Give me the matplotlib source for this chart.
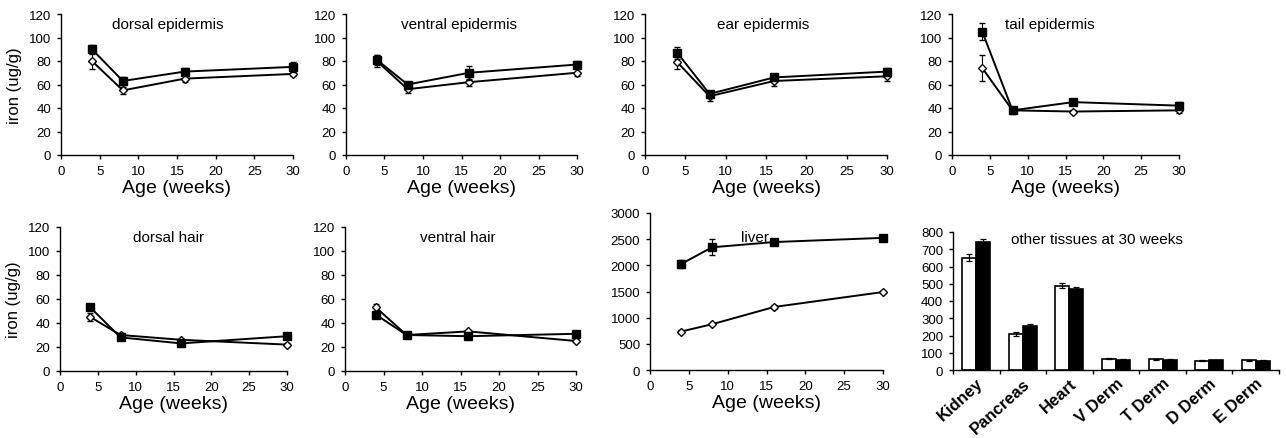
import matplotlib
matplotlib.use("Agg")
import matplotlib.pyplot as plt
import numpy as np

plt.rcParams["font.family"] = ["Liberation Sans", "DejaVu Sans"]

W, H = 1286, 439

ages = [4, 8, 16, 30]

# iron (ug/g); *_f = filled squares, *_o = open diamonds
dorsal_epi_f = [90, 63, 71, 75]
dorsal_epi_f_err = [4, 3, 3, 4]
dorsal_epi_o = [80, 55, 65, 69]
dorsal_epi_o_err = [7, 3, 3, 2]

ventral_epi_f = [81, 60, 70, 77]
ventral_epi_f_err = [4, 2, 6, 3]
ventral_epi_o = [80, 56, 62, 70]
ventral_epi_o_err = [5, 3, 3, 3]

ear_epi_f = [87, 52, 66, 71]
ear_epi_f_err = [5, 2, 2, 3]
ear_epi_o = [79, 50, 63, 67]
ear_epi_o_err = [6, 4, 4, 4]

tail_epi_f = [105, 38, 45, 42]
tail_epi_f_err = [7, 2, 2, 3]
tail_epi_o = [74, 38, 37, 38]
tail_epi_o_err = [11, 3, 1, 2]

dorsal_hair_f = [53, 28, 23, 29]
dorsal_hair_f_err = [2, 1, 1, 2]
dorsal_hair_o = [45, 30, 26, 22]
dorsal_hair_o_err = [3, 1, 1, 1]

ventral_hair_f = [47, 30, 29, 31]
ventral_hair_f_err = [2, 1, 1, 1]
ventral_hair_o = [53, 30, 33, 25]
ventral_hair_o_err = [3, 1, 1, 1]

liver_f = [2025, 2345, 2445, 2525]
liver_f_err = [80, 150, 30, 30]
liver_o = [735, 875, 1205, 1490]
liver_o_err = [20, 20, 30, 20]

tissues = ["Kidney", "Pancreas", "Heart", "V Derm", "T Derm", "D Derm", "E Derm"]
tissue_o = [652, 208, 488, 64, 62, 55, 57]
tissue_o_err = [20, 10, 15, 3, 2, 2, 3]
tissue_f = [744, 256, 468, 60, 58, 57, 55]
tissue_f_err = [15, 8, 15, 4, 3, 3, 3]


fig = plt.figure(figsize=(W / 100, H / 100), dpi=100)
fig.patch.set_facecolor("white")


def px_axes(l, t, r, b):
    return fig.add_axes([l / W, 1 - b / H, (r - l) / W, (b - t) / H])


def style(ax):
    for s in ("top", "right"):
        ax.spines[s].set_visible(False)
    for s in ("left", "bottom"):
        ax.spines[s].set_linewidth(1.0)
    ax.tick_params(direction="out", length=3, width=1.0, labelsize=9.5, pad=4)


def line_panel(ax, f, ferr, o, oerr, title, tx, ylim, yticks, ylabel=False, ty=0.93):
    ax.errorbar(ages, o, yerr=oerr, color="black", lw=1.4, elinewidth=0.8, capsize=2,
                marker="D", ms=4.5, mfc="white", mec="black", mew=1.0, zorder=3,
                clip_on=False)
    ax.errorbar(ages, f, yerr=ferr, color="black", lw=1.4, elinewidth=0.8, capsize=2,
                marker="s", ms=6, mfc="black", mec="black", zorder=4, clip_on=False)
    ax.set_xlim(0, 30)
    ax.set_xticks(range(0, 31, 5))
    ax.set_ylim(*ylim)
    ax.set_yticks(yticks)
    ax.set_xlabel("Age (weeks)", fontsize=14, labelpad=1.5)
    if ylabel:
        ax.set_ylabel("iron (ug/g)", fontsize=12, labelpad=5)
    ax.text(tx, ty, title, transform=ax.transAxes, ha="center", va="center", fontsize=11)
    style(ax)


yt = range(0, 121, 20)
line_panel(px_axes(61, 15, 293, 156), dorsal_epi_f, dorsal_epi_f_err, dorsal_epi_o,
           dorsal_epi_o_err, "dorsal epidermis", 0.46, (0, 120), yt, ylabel=True)
line_panel(px_axes(346, 15, 577, 156), ventral_epi_f, ventral_epi_f_err, ventral_epi_o,
           ventral_epi_o_err, "ventral epidermis", 0.49, (0, 120), yt)
line_panel(px_axes(645, 15, 887, 156), ear_epi_f, ear_epi_f_err, ear_epi_o,
           ear_epi_o_err, "ear epidermis", 0.49, (0, 120), yt)
line_panel(px_axes(952, 15, 1179, 156), tail_epi_f, tail_epi_f_err, tail_epi_o,
           tail_epi_o_err, "tail epidermis", 0.43, (0, 120), yt)
line_panel(px_axes(60, 228, 287, 372), dorsal_hair_f, dorsal_hair_f_err, dorsal_hair_o,
           dorsal_hair_o_err, "dorsal hair", 0.48, (0, 120), yt, ylabel=True)
line_panel(px_axes(345, 228, 576, 372), ventral_hair_f, ventral_hair_f_err, ventral_hair_o,
           ventral_hair_o_err, "ventral hair", 0.49, (0, 120), yt)
line_panel(px_axes(650, 214, 883, 371), liver_f, liver_f_err, liver_o,
           liver_o_err, "liver", 0.45, (0, 3000), range(0, 3001, 500), ty=0.85)

# bar panel
ax = px_axes(953, 233, 1279, 371)
x = np.arange(len(tissues)) + 0.5
bw = 0.3
ax.bar(x - bw / 2, tissue_o, bw, yerr=tissue_o_err, color="white", edgecolor="black",
       lw=1.2, capsize=2, error_kw=dict(elinewidth=0.9, capthick=0.9))
ax.bar(x + bw / 2, tissue_f, bw, yerr=tissue_f_err, color="black", edgecolor="black",
       lw=1.2, capsize=2, error_kw=dict(elinewidth=0.9, capthick=0.9))
ax.set_xlim(0, len(tissues))
ax.set_ylim(0, 800)
ax.set_yticks(range(0, 801, 100))
ax.set_xticks(range(len(tissues) + 1))
ax.set_xticklabels([])
for xi, name in zip(x, tissues):
    ax.text(xi, -30, name, rotation=42, rotation_mode="anchor", ha="right", va="top",
            fontsize=12, fontweight="bold")
ax.text(0.44, 0.95, "other tissues at 30 weeks", transform=ax.transAxes,
        ha="center", va="center", fontsize=11)
style(ax)

fig.savefig("out.png", dpi=100, facecolor="white")
